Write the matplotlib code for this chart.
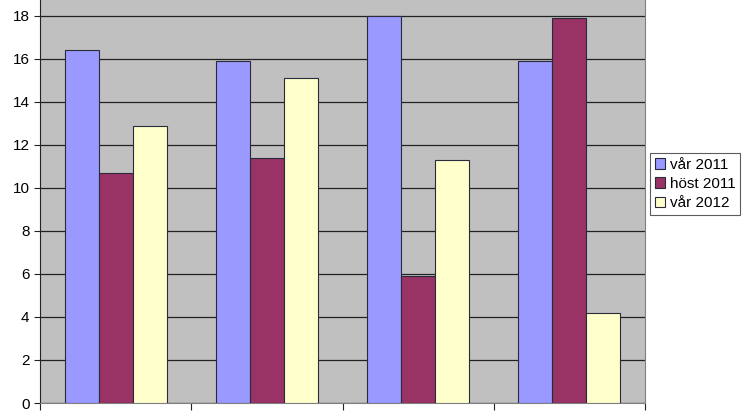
import numpy as np
import matplotlib.pyplot as plt

plt.rcParams['font.family'] = ['Liberation Sans', 'DejaVu Sans']

series = ['vår 2011', 'höst 2011', 'vår 2012']
var_2011 = [16.4, 15.9, 18.0, 15.9]
host_2011 = [10.7, 11.4, 5.9, 17.9]
var_2012 = [12.9, 15.1, 11.3, 4.2]
colors = ['#9999FF', '#993366', '#FFFFCC']

fig = plt.figure(figsize=(7.46, 4.19), dpi=100)
ax = fig.add_axes([40 / 746, 16 / 419, 605 / 746, 403 / 419])
ax.set_facecolor('#C0C0C0')

x = np.arange(len(var_2011))
w = 0.225
for i, (vals, c, lab) in enumerate(zip([var_2011, host_2011, var_2012], colors, series)):
    ax.bar(x + (i - 1) * w, vals, w, color=c, edgecolor='#2a2a3a', linewidth=0.8,
           label=lab, zorder=3)

ax.set_xlim(-0.5, 3.5)
ax.set_ylim(0, 18.74)
ax.set_yticks(range(0, 19, 2))
ax.set_xticks(np.arange(-0.5, 4, 1))
ax.set_xticklabels([])
ax.tick_params(axis='y', labelsize=11, direction='out', length=4, color='#222222')
ax.tick_params(axis='x', direction='out', length=5, color='#222222')
ax.yaxis.grid(True, color='#222222', linewidth=0.9, zorder=0)
ax.set_axisbelow(True)

ax.spines['top'].set_visible(False)
ax.spines['left'].set_color('#222222')
ax.spines['bottom'].set_color('#808080')
ax.spines['right'].set_color('#808080')

leg = ax.legend(loc='upper left', bbox_to_anchor=(650 / 746, 266 / 419),
                bbox_transform=fig.transFigure, fontsize=11, frameon=True,
                fancybox=False, handlelength=0.7, handleheight=0.7,
                handletextpad=0.3, borderpad=0.3, labelspacing=0.35,
                borderaxespad=0)
leg.get_frame().set_edgecolor('#333333')
leg.get_frame().set_linewidth(0.8)

fig.savefig('out.png', dpi=100)
